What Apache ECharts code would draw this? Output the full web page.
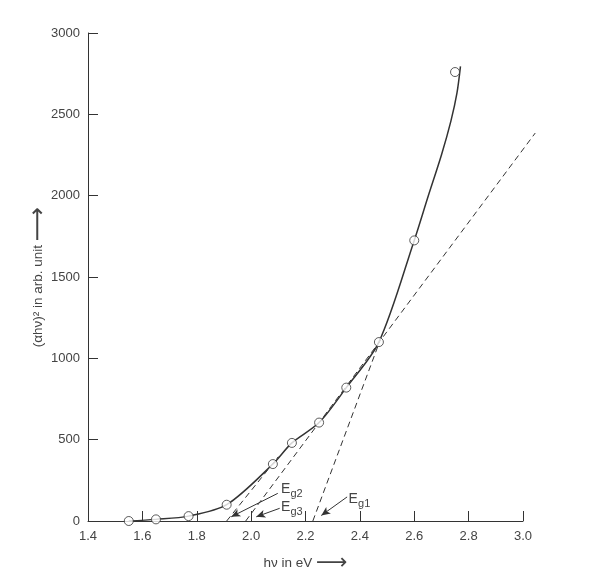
<!DOCTYPE html>
<html>
<head>
<meta charset="utf-8">
<script src="https://cdn.jsdelivr.net/npm/echarts@6/dist/echarts.min.js"></script>
<style>
  html, body { margin: 0; padding: 0; background: #fff; }
  #chart { width: 594px; height: 580px; }
</style>
</head>
<body>
<div id="chart"></div>
<script>
// measured points (hv in eV, (αhν)^2)
var hv = [1.55, 1.65, 1.77, 1.91, 2.08, 2.15, 2.25, 2.35, 2.47, 2.60, 2.75];
var absorb = [0, 10, 30, 100, 350, 480, 605, 820, 1100, 1725, 2760];

// hand drawn curve through the points
var curveHv = [1.55, 1.65, 1.77, 1.91, 2.08, 2.15, 2.25, 2.35, 2.47, 2.60, 2.65, 2.70, 2.735, 2.757, 2.77];
var curveVal = [0, 10, 30, 100, 350, 480, 605, 820, 1100, 1725, 1990, 2250, 2460, 2630, 2795];

// extrapolated straight lines (start, end)
var lineEg1 = [[2.227, 0], [2.472, 1100]];
var lineEg2 = [[1.91, 0], [2.10, 395]];
var lineEg3 = [[1.98, 0], [3.045, 2385]];

var xTicks = [1.4, 3.0, 0.2];
var yTicks = [0, 3000, 500];

// labels: E centre, arrow from -> to
var egNames = ['g1', 'g2', 'g3'];
var egText = [[2.375, 135], [2.126, 194], [2.126, 83]];
var egArrow = [
  [[2.353, 148], [2.258, 34]],
  [[2.098, 170], [1.927, 26]],
  [[2.105, 78], [2.019, 26]]
];

var ink = '#333';
var txt = '#444';
var font = '"Liberation Sans", Arial, "DejaVu Sans", sans-serif';

var chart = echarts.init(document.getElementById('chart'));

var option = {
  backgroundColor: '#fff',
  animation: false,
  textStyle: { fontFamily: font },
  grid: { left: 88, top: 33, width: 435, height: 488, containLabel: false },
  xAxis: {
    type: 'value', min: xTicks[0], max: xTicks[1], interval: xTicks[2],
    name: 'hν in eV {a|⟶}', nameLocation: 'middle', nameGap: 34, nameMoveOverlap: false,
    nameTextStyle: { color: txt, fontSize: 13.5, fontFamily: font, lineHeight: 16,
      rich: { a: { fontSize: 22, lineHeight: 16, color: txt, fontFamily: font } } },
    axisLine: { lineStyle: { color: ink, width: 1 } },
    axisTick: { inside: true, length: 10, lineStyle: { color: ink } },
    axisLabel: { color: txt, fontSize: 13, margin: 9, fontFamily: font,
      formatter: function (v) { return v.toFixed(1); } },
    splitLine: { show: false }
  },
  yAxis: {
    type: 'value', min: yTicks[0], max: yTicks[1], interval: yTicks[2],
    name: '(αhν)² in arb. unit {a|⟶}', nameLocation: 'middle', nameGap: 42, nameMoveOverlap: false,
    nameTextStyle: { color: txt, fontSize: 13.5, fontFamily: font, lineHeight: 16,
      rich: { a: { fontSize: 24, lineHeight: 16, color: txt, fontFamily: font } } },
    axisLine: { show: true, lineStyle: { color: ink, width: 1 } },
    axisTick: { show: true, inside: true, length: 10, lineStyle: { color: ink } },
    axisLabel: { color: txt, fontSize: 13, margin: 8, fontFamily: font,
      formatter: function (v) { return String(v); } },
    splitLine: { show: false }
  },
  series: [
    {
      type: 'line', smooth: 0.3, symbol: 'none', silent: true, z: 3,
      data: curveHv.map(function (x, i) { return [x, curveVal[i]]; }),
      lineStyle: { color: ink, width: 1.5 }
    },
    {
      type: 'scatter', symbol: 'circle', symbolSize: 9, z: 4,
      data: hv.map(function (x, i) { return [x, absorb[i]]; }),
      itemStyle: { color: '#fff', borderColor: ink, borderWidth: 1 }
    },
    {
      type: 'line', data: [], silent: true, z: 5,
      markLine: {
        silent: true, symbol: ['none', 'arrow'], symbolSize: [6, 9],
        label: { show: false },
        lineStyle: { color: ink, width: 1, type: 'solid' },
        data: egArrow.map(function (a) {
          return [{ coord: a[0] }, { coord: a[1] }];
        })
      }
    }
  ]
};

chart.setOption(option);

var graphics = [];

// dashed extrapolation lines (Eg3 runs past the end of the x axis)
[lineEg1, lineEg2, lineEg3].forEach(function (l) {
  var a = chart.convertToPixel({ gridIndex: 0 }, l[0]);
  var b = chart.convertToPixel({ gridIndex: 0 }, l[1]);
  graphics.push({
    type: 'line', z: 2, silent: true,
    shape: { x1: a[0], y1: a[1], x2: b[0], y2: b[1] },
    style: { stroke: ink, lineWidth: 1, lineDash: [6, 4] }
  });
});

// Eg labels with subscript
egNames.forEach(function (s, i) {
  var p = chart.convertToPixel({ gridIndex: 0 }, egText[i]);
  graphics.push({
    type: 'text', x: p[0] - 4.5, y: p[1],
    style: { text: 'E', fill: txt, font: '14px ' + font, textAlign: 'left', textVerticalAlign: 'middle' }
  });
  graphics.push({
    type: 'text', x: p[0] + 5, y: p[1] + 4.5,
    style: { text: s, fill: txt, font: '11px ' + font, textAlign: 'left', textVerticalAlign: 'middle' }
  });
});
chart.setOption({ graphic: graphics });
</script>
</body>
</html>
